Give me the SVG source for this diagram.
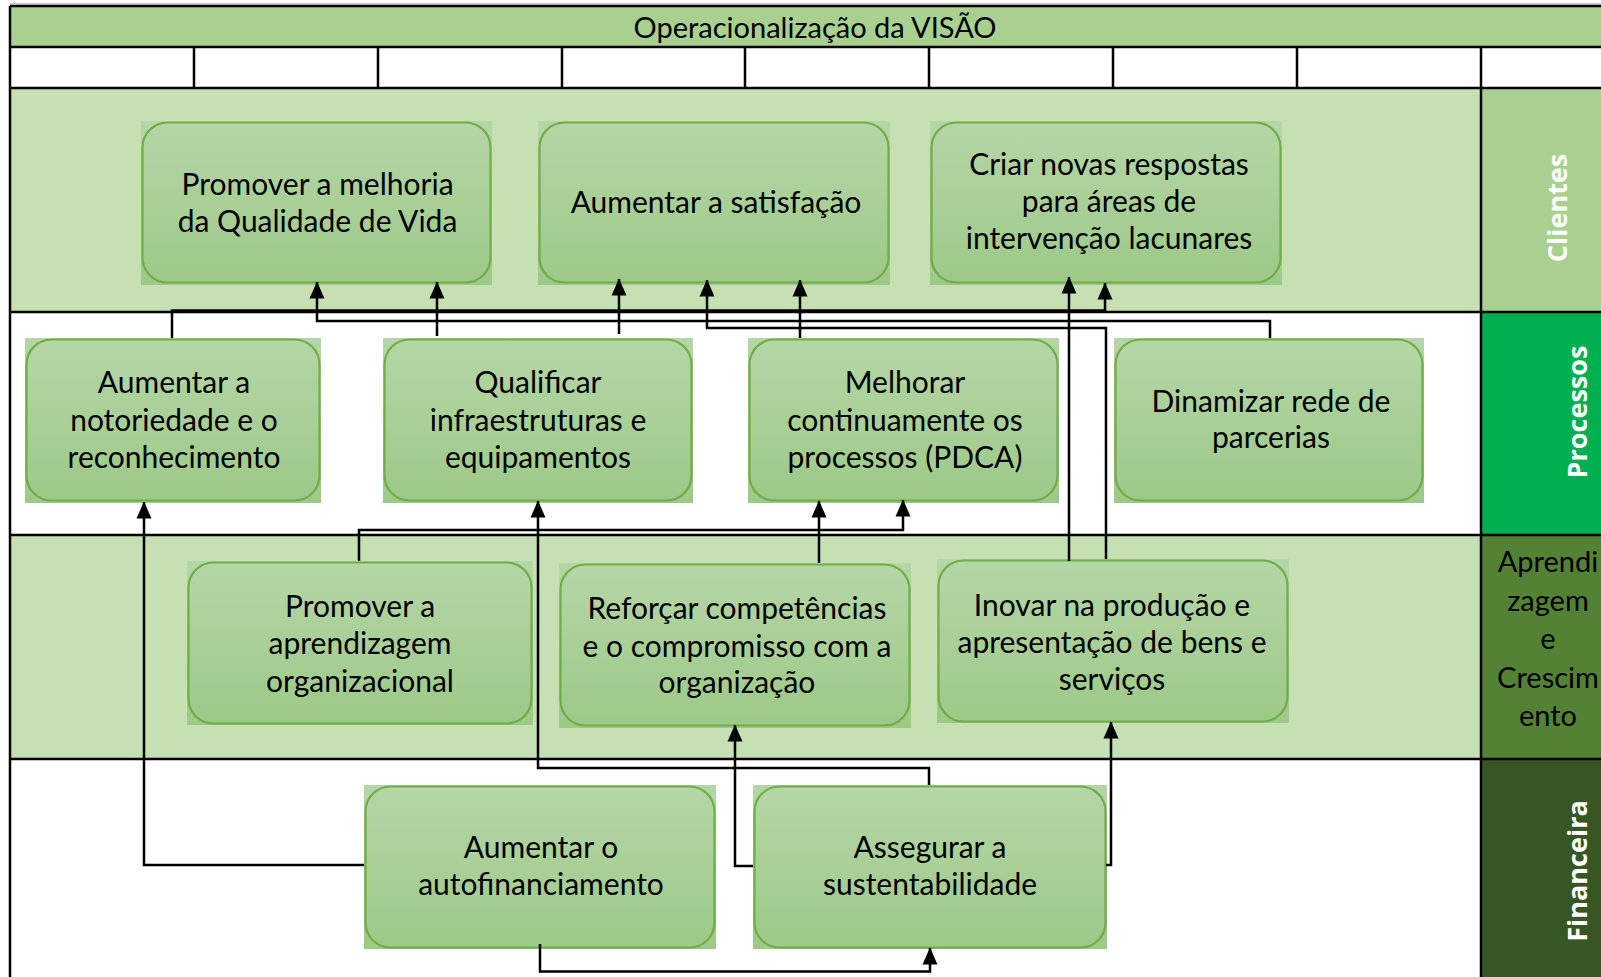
<svg xmlns="http://www.w3.org/2000/svg" width="1601" height="977" viewBox="0 0 1601 977">
<defs>
<linearGradient id="g" x1="0" y1="0" x2="0" y2="1">
<stop offset="0" stop-color="#B5D6A6"/>
<stop offset="1" stop-color="#9DC988"/>
</linearGradient>
<marker id="ah" viewBox="0 0 17 16" refX="16.5" refY="8" markerWidth="17" markerHeight="16" markerUnits="userSpaceOnUse" orient="auto">
<path d="M0,0.5 L17,8 L0,15.5 Z" fill="#000"/>
</marker>
</defs>
<style>
.bx{fill:url(#g)}
.rb{fill:url(#g);stroke:#70AD47;stroke-width:2.2}
.t{font-family:Lato,"Liberation Sans",sans-serif;font-size:30px;fill:#000;text-anchor:middle}
.h{font-family:Lato,"Liberation Sans",sans-serif;font-size:29px;fill:#000;text-anchor:middle}
.v{font-family:"Open Sans","Liberation Sans",sans-serif;font-weight:700;font-size:27px;fill:#fff;text-anchor:middle}
.c{fill:none;stroke:#000;stroke-width:2.5;marker-end:url(#ah)}
.ln{fill:none;stroke:#000;stroke-width:2.5}
</style>
<rect x="0" y="0" width="1601" height="977" fill="#fff"/>
<g id="lanes">
<rect x="10" y="6" width="1591" height="41" fill="#A9D08E"/>
<rect x="10" y="88" width="1471" height="224" fill="#C6E0B4"/>
<rect x="1481" y="88" width="120" height="224" fill="#A9D08E"/>
<rect x="1481" y="312" width="120" height="223" fill="#00B050"/>
<rect x="10" y="535" width="1471" height="224" fill="#C6E0B4"/>
<rect x="1481" y="535" width="120" height="224" fill="#548235"/>
<rect x="1481" y="759" width="120" height="218" fill="#375623"/>
<path d="M10,3.8H1601" stroke="#B0B0B0" stroke-width="1"/>
<path class="ln" d="M10,6H1601 M10,47H1601 M10,88H1601 M10,312H1601 M10,535H1601 M10,759H1601 M10,6V977 M1481,47V977 M194,47V88 M378,47V88 M562,47V88 M745,47V88 M929,47V88 M1113,47V88 M1297,47V88"/>
<text class="h" x="815" y="37.5">Operacionalização da VISÃO</text>
<text class="v" transform="translate(1567,208) rotate(-90)">Clientes</text>
<text class="v" transform="translate(1587,412) rotate(-90)">Processos</text>
<text class="h" x="1548" y="572">Aprendi</text>
<text class="h" x="1548" y="610.5">zagem</text>
<text class="h" x="1548" y="649">e</text>
<text class="h" x="1548" y="687.5">Crescim</text>
<text class="h" x="1548" y="726">ento</text>
<text class="v" transform="translate(1587,871) rotate(-90)">Financeira</text>
</g>
<g id="n1">
<rect class="bx" x="141" y="121" width="351" height="164"/>
<rect class="rb" x="142.5" y="122.5" width="348" height="160" rx="25"/>
<text class="t" x="317.5" y="195">Promover a melhoria</text>
<text class="t" x="317.5" y="231.7">da Qualidade de Vida</text>
</g>
<g id="n2">
<rect class="bx" x="538" y="121" width="352" height="164"/>
<rect class="rb" x="539.5" y="122.5" width="349" height="160" rx="25"/>
<text class="t" x="716" y="213.3">Aumentar a satisfação</text>
</g>
<g id="n3">
<rect class="bx" x="930" y="121" width="352" height="164"/>
<rect class="rb" x="931.5" y="122.5" width="349" height="160" rx="25"/>
<text class="t" x="1109" y="175">Criar novas respostas</text>
<text class="t" x="1109" y="212.3">para áreas de</text>
<text class="t" x="1109" y="249.3">intervenção lacunares</text>
</g>
<g id="n4">
<rect class="bx" x="25" y="338" width="296" height="165"/>
<rect class="rb" x="26.5" y="339.5" width="293" height="161" rx="25"/>
<text class="t" x="174" y="393.3">Aumentar a</text>
<text class="t" x="174" y="431">notoriedade e o</text>
<text class="t" x="174" y="467.7">reconhecimento</text>
</g>
<g id="n5">
<rect class="bx" x="383" y="338" width="310" height="165"/>
<rect class="rb" x="384.5" y="339.5" width="307" height="161" rx="25"/>
<text class="t" x="538" y="393.3">Qualificar</text>
<text class="t" x="538" y="431">infraestruturas e</text>
<text class="t" x="538" y="467.7">equipamentos</text>
</g>
<g id="n6">
<rect class="bx" x="748" y="338" width="311" height="165"/>
<rect class="rb" x="749.5" y="339.5" width="308" height="161" rx="25"/>
<text class="t" x="905" y="393.3">Melhorar</text>
<text class="t" x="905" y="431">continuamente os</text>
<text class="t" x="905" y="467.7">processos (PDCA)</text>
</g>
<g id="n7">
<rect class="bx" x="1114" y="338" width="310" height="165"/>
<rect class="rb" x="1115.5" y="339.5" width="307" height="161" rx="25"/>
<text class="t" x="1271" y="411.7">Dinamizar rede de</text>
<text class="t" x="1271" y="448.3">parcerias</text>
</g>
<g id="n8">
<rect class="bx" x="187" y="561" width="346" height="164"/>
<rect class="rb" x="188.5" y="562.5" width="343" height="161" rx="25"/>
<text class="t" x="360" y="617.3">Promover a</text>
<text class="t" x="360" y="654">aprendizagem</text>
<text class="t" x="360" y="691.7">organizacional</text>
</g>
<g id="n9">
<rect class="bx" x="559" y="563" width="352" height="165"/>
<rect class="rb" x="560.5" y="564.5" width="349" height="161" rx="25"/>
<text class="t" x="737" y="619.3">Reforçar competências</text>
<text class="t" x="737" y="656.7">e o compromisso com a</text>
<text class="t" x="737" y="693.3">organização</text>
</g>
<g id="n10">
<rect class="bx" x="937" y="559" width="352" height="164"/>
<rect class="rb" x="938.5" y="560.5" width="349" height="161" rx="25"/>
<text class="t" x="1112" y="616">Inovar na produção e</text>
<text class="t" x="1112" y="652.5">apresentação de bens e</text>
<text class="t" x="1112" y="690">serviços</text>
</g>
<g id="n11">
<rect class="bx" x="364" y="785" width="352" height="164"/>
<rect class="rb" x="365.5" y="786.5" width="349" height="161" rx="25"/>
<text class="t" x="541" y="858.3">Aumentar o</text>
<text class="t" x="541" y="895">autofinanciamento</text>
</g>
<g id="n12">
<rect class="bx" x="753" y="785" width="354" height="164"/>
<rect class="rb" x="754.5" y="786.5" width="351" height="161" rx="25"/>
<text class="t" x="930" y="858.3">Assegurar a</text>
<text class="t" x="930" y="895">sustentabilidade</text>
</g>
<g id="connectors">
<path class="c" d="M172,338 V310.5 H1105 V283"/>
<path class="c" d="M1270,338 V321 H317 V282"/>
<path class="c" d="M437,336 V282"/>
<path class="c" d="M619,334 V279"/>
<path class="c" d="M1106,559 V328 H707 V280"/>
<path class="c" d="M800,338 V280"/>
<path class="c" d="M1069,561 V277"/>
<path class="c" d="M364,865 H144 V502"/>
<path class="c" d="M929,785 V768 H538 V501"/>
<path class="c" d="M359,561 V530 H903 V500"/>
<path class="c" d="M819,563 V501"/>
<path class="c" d="M753,866 H735 V725"/>
<path class="c" d="M1106,865 H1111 V722"/>
<path class="c" d="M540,944 V971.5 H930 V948"/>
</g>
</svg>
